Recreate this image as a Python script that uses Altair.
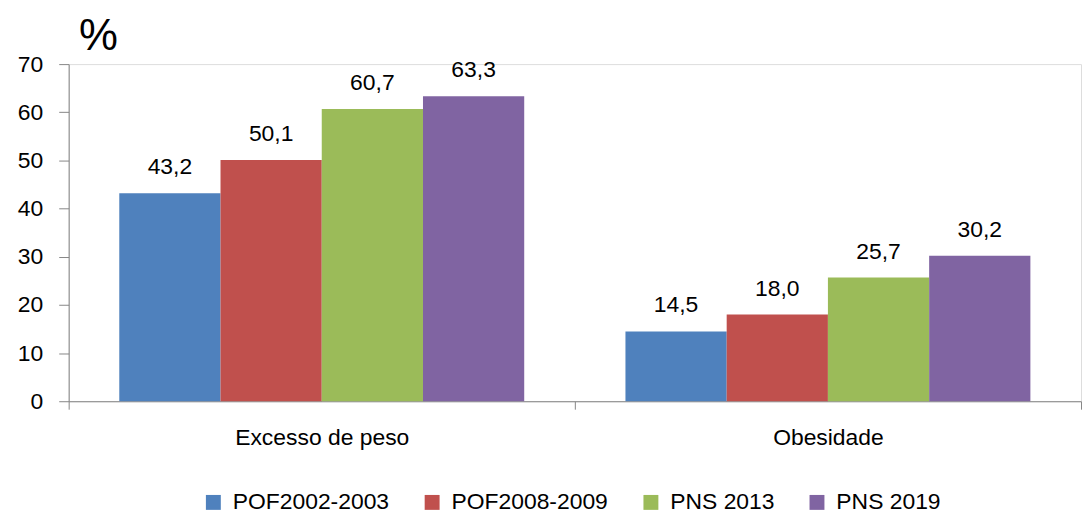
import altair as alt
import pandas as pd

categories = ["Excesso de peso", "Obesidade"]
series = ["POF2002-2003", "POF2008-2009", "PNS 2013", "PNS 2019"]
values_excesso = [43.2, 50.1, 60.7, 63.3]
values_obesidade = [14.5, 18.0, 25.7, 30.2]
colors = ["#4F81BD", "#C0504D", "#9BBB59", "#8064A2"]
y_ticks = [0, 10, 20, 30, 40, 50, 60, 70]

rows = []
for cat, vals in zip(categories, [values_excesso, values_obesidade]):
    for s, v in zip(series, vals):
        rows.append({"categoria": cat, "serie": s, "valor": v})
df = pd.DataFrame(rows)

FONT = "Liberation Sans"
FS = 23

base = alt.Chart(df).encode(
    x=alt.X(
        "categoria:N",
        sort=categories,
        scale=alt.Scale(paddingInner=0, paddingOuter=0),
        axis=alt.Axis(
            title=None,
            labelAngle=0,
            labelFontSize=FS,
            labelFont=FONT,
            labelColor="#000000",
            labelPadding=18,
            domainColor="#868686",
            tickColor="#868686",
            tickSize=8,
            tickBand="extent",
            grid=False,
        ),
    ),
    xOffset=alt.XOffset("serie:N", sort=series, scale=alt.Scale(paddingInner=0, paddingOuter=0.5)),
    y=alt.Y(
        "valor:Q",
        scale=alt.Scale(domain=[0, 70], nice=False, zero=True),
        axis=alt.Axis(
            values=y_ticks,
            title="%",
            titleAngle=0,
            titleFontSize=44,
            titleFont=FONT,
            titleFontWeight="normal",
            titleColor="#000000",
            titleAlign="left",
            titleBaseline="alphabetic",
            titleX=10,
            titleY=-15,
            labelFontSize=FS,
            labelFont=FONT,
            labelColor="#000000",
            labelPadding=16,
            domainColor="#868686",
            tickColor="#868686",
            tickSize=10,
            grid=False,
        ),
    ),
)

bars = base.mark_bar(strokeWidth=0).encode(
    color=alt.Color(
        "serie:N",
        sort=series,
        scale=alt.Scale(domain=series, range=colors),
        legend=alt.Legend(
            title=None,
            orient="none",
            direction="horizontal",
            legendX=134,
            legendY=429,
            symbolType="square",
            symbolSize=225,
            symbolStrokeWidth=0,
            symbolOpacity=1,
            labelFontSize=FS,
            labelFont=FONT,
            labelColor="#000000",
            labelOffset=8,
            labelLimit=400,
            columnPadding=31,
            padding=0,
        ),
    )
)

labels = base.mark_text(
    baseline="alphabetic", align="center", dy=-19, fontSize=FS, font=FONT, color="#000000"
).transform_calculate(
    rotulo="replace(format(datum.valor, '.1f'), '.', ',')"
).encode(text="rotulo:N")

chart = (
    alt.layer(bars, labels)
    .properties(width=1018, height=339, padding={"left": 9, "right": 0, "top": 5, "bottom": 0})
    .configure_view(stroke=None)
    .configure(font=FONT)
)

chart.save("out.html", embed_options={"renderer": "svg", "actions": False})
